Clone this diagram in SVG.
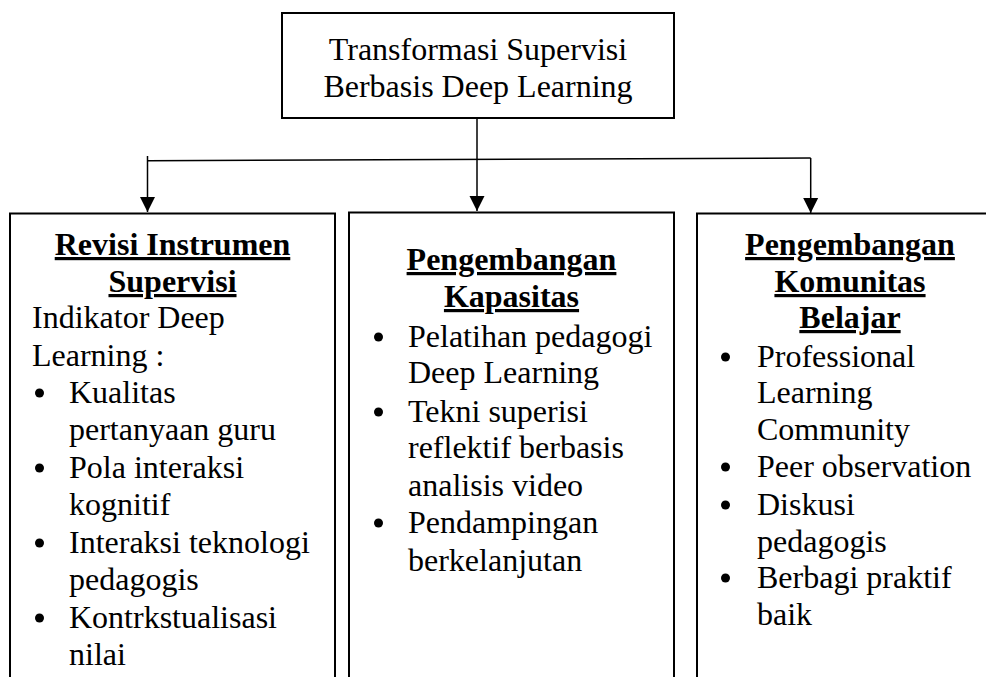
<svg xmlns="http://www.w3.org/2000/svg" width="986" height="677" viewBox="0 0 986 677">
<style>
.box{fill:#fff;stroke:#000;stroke-width:2}
.t{font-family:"Liberation Serif","Times New Roman",serif;font-size:32px;fill:#000}
.h{font-weight:bold;text-decoration:underline;text-anchor:middle}
.c{text-anchor:middle}
.ln{stroke:#000;stroke-width:1.5;fill:none}
.bul{fill:#000}
</style>
<defs>
<marker id="arr" markerWidth="16" markerHeight="16" refX="15" refY="8" orient="auto" markerUnits="userSpaceOnUse" viewBox="0 0 16 16">
<path d="M0,0.5 L15,8 L0,15.5 Z" fill="#000"/>
</marker>
</defs>
<rect width="986" height="677" fill="#fff"/>
<g id="connectors">
<line class="ln" x1="477" y1="118" x2="477" y2="211" marker-end="url(#arr)"/>
<polyline class="ln" points="148,160.7 810.7,158"/>
<line class="ln" x1="147.5" y1="156" x2="147.5" y2="212" marker-end="url(#arr)"/>
<line class="ln" x1="810.7" y1="158" x2="810.7" y2="213" marker-end="url(#arr)"/>
</g>
<g id="top">
<rect class="box" x="282" y="13" width="392" height="105"/>
<text class="t c" x="478" y="60">Transformasi Supervisi</text>
<text class="t c" x="478" y="97">Berbasis Deep Learning</text>
</g>
<g id="revisi">
<rect class="box" x="10" y="213.5" width="325" height="480"/>
<text class="t h" x="172.5" y="255">Revisi Instrumen</text>
<text class="t h" x="172.5" y="292">Supervisi</text>
<text class="t" x="32" y="328">Indikator Deep</text>
<text class="t" x="32" y="366">Learning :</text>
<circle class="bul" cx="39.5" cy="393" r="4.5"/>
<text class="t" x="69" y="403">Kualitas</text>
<text class="t" x="69" y="440">pertanyaan guru</text>
<circle class="bul" cx="39.5" cy="468" r="4.5"/>
<text class="t" x="69" y="478">Pola interaksi</text>
<text class="t" x="69" y="515">kognitif</text>
<circle class="bul" cx="39.5" cy="543" r="4.5"/>
<text class="t" x="69" y="553">Interaksi teknologi</text>
<text class="t" x="69" y="590">pedagogis</text>
<circle class="bul" cx="39.5" cy="618" r="4.5"/>
<text class="t" x="69" y="628">Kontrkstualisasi</text>
<text class="t" x="69" y="665">nilai</text>
</g>
<g id="kapasitas">
<rect class="box" x="349" y="212.5" width="325" height="480"/>
<text class="t h" x="511.5" y="270">Pengembangan</text>
<text class="t h" x="511.5" y="307">Kapasitas</text>
<circle class="bul" cx="378.5" cy="337" r="4.5"/>
<text class="t" x="408" y="347">Pelatihan pedagogi</text>
<text class="t" x="408" y="383">Deep Learning</text>
<circle class="bul" cx="378.5" cy="412" r="4.5"/>
<text class="t" x="408" y="422">Tekni superisi</text>
<text class="t" x="408" y="458">reflektif berbasis</text>
<text class="t" x="408" y="496">analisis video</text>
<circle class="bul" cx="378.5" cy="523" r="4.5"/>
<text class="t" x="408" y="533">Pendampingan</text>
<text class="t" x="408" y="571">berkelanjutan</text>
</g>
<g id="komunitas">
<rect class="box" x="697" y="213.5" width="320" height="480"/>
<text class="t h" x="850" y="255">Pengembangan</text>
<text class="t h" x="850" y="292">Komunitas</text>
<text class="t h" x="850" y="328">Belajar</text>
<circle class="bul" cx="725.5" cy="357" r="4.5"/>
<text class="t" x="757" y="367">Professional</text>
<text class="t" x="757" y="403">Learning</text>
<text class="t" x="757" y="440">Community</text>
<circle class="bul" cx="725.5" cy="467" r="4.5"/>
<text class="t" x="757" y="477">Peer observation</text>
<circle class="bul" cx="725.5" cy="505" r="4.5"/>
<text class="t" x="757" y="515">Diskusi</text>
<text class="t" x="757" y="552">pedagogis</text>
<circle class="bul" cx="725.5" cy="578" r="4.5"/>
<text class="t" x="757" y="588">Berbagi praktif</text>
<text class="t" x="757" y="625">baik</text>
</g>
</svg>
